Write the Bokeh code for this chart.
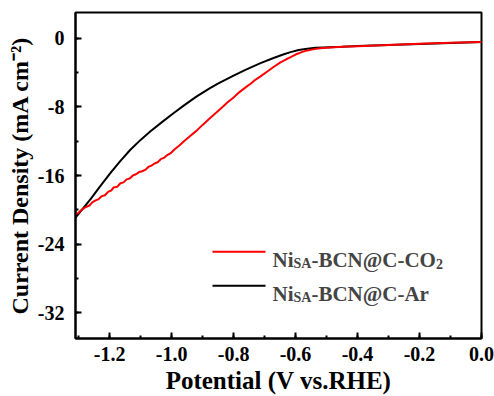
from bokeh.plotting import figure
from bokeh.models import SingleIntervalTicker, NumeralTickFormatter, Label
from bokeh.embed import file_html
from bokeh.resources import INLINE

# ---- data ----
ar_x = [-1.31, -1.285, -1.262, -1.23, -1.197, -1.165, -1.133, -1.10, -1.068, -1.03,
        -0.995, -0.961, -0.92, -0.88, -0.852, -0.80, -0.76, -0.713, -0.671, -0.64,
        -0.616, -0.59, -0.562, -0.535, -0.51, -0.45, -0.40, -0.30, -0.20, -0.10, 0.0]
ar_y = [-20.9, -19.8, -18.78, -17.25, -15.7, -14.3, -13.0, -11.85, -10.85, -9.75,
        -8.77, -7.85, -6.8, -5.9, -5.32, -4.35, -3.65, -2.9, -2.3, -1.9,
        -1.62, -1.38, -1.22, -1.12, -1.07, -0.98, -0.9, -0.78, -0.66, -0.55, -0.45]

co2_x = [-1.31, -1.300, -1.290, -1.278, -1.265, -1.255, -1.245, -1.235, -1.225, -1.215,
         -1.205, -1.195, -1.187, -1.175, -1.165, -1.155, -1.145, -1.135, -1.125, -1.115,
         -1.105, -1.095, -1.085, -1.075, -1.065, -1.055, -1.045, -1.035, -1.025, -1.015,
         -1.003, -0.990, -0.975, -0.96, -0.94, -0.92, -0.90, -0.88, -0.86, -0.84,
         -0.82, -0.80, -0.78, -0.76, -0.745, -0.73, -0.713, -0.69, -0.671, -0.65,
         -0.63, -0.616, -0.60, -0.58, -0.562, -0.54, -0.52, -0.50, -0.45, -0.40,
         -0.30, -0.20, -0.10, 0.0]
co2_y = [-20.5, -20.35, -20.0, -19.7, -19.5, -19.1, -18.9, -18.75, -18.4, -18.3,
         -17.9, -17.75, -17.4, -17.3, -16.9, -16.8, -16.45, -16.35, -16.0, -15.85,
         -15.6, -15.5, -15.35, -15.0, -14.85, -14.6, -14.45, -14.1, -13.95, -13.65,
         -13.4, -12.95, -12.5, -12.0, -11.4, -10.8, -10.1, -9.45, -8.8, -8.15,
         -7.5, -6.9, -6.25, -5.7, -5.3, -4.85, -4.45, -3.85, -3.35, -2.85,
         -2.45, -2.2, -1.9, -1.62, -1.42, -1.27, -1.18, -1.12, -1.0, -0.92,
         -0.78, -0.65, -0.54, -0.43]

series_labels = ["-BCN@C-CO", "-BCN@C-Ar"]
x_title = "Potential (V vs.RHE)"
y_title = "Current Density (mA cm\u207b\u00b2)"

X_MIN, X_MAX = -1.31, 0.0
Y_MIN, Y_MAX = -35.0, 3.0

W, H = 494, 396
FL, FR, FT, FB = 75, 481, 12, 339   # frame edges in pixels
def dx(px):
    return X_MIN + (px - FL) * (X_MAX - X_MIN) / (FR - FL)
def dy(py):
    return Y_MAX - (py - FT) * (Y_MAX - Y_MIN) / (FB - FT)

FONT = "Liberation Serif"

p = figure(width=W, height=H, x_range=(X_MIN, X_MAX), y_range=(Y_MIN, Y_MAX),
           output_backend="svg", toolbar_location=None,
           min_border_left=FL, min_border_right=W - FR,
           min_border_top=FT, min_border_bottom=H - FB)
p.grid.visible = False
p.outline_line_color = "black"
p.outline_line_width = 2
p.background_fill_color = "white"
p.border_fill_color = "white"

p.xaxis.ticker = SingleIntervalTicker(interval=0.2, num_minor_ticks=2)
p.yaxis.ticker = SingleIntervalTicker(interval=8, num_minor_ticks=2)
p.xaxis.formatter = NumeralTickFormatter(format="0.0")
p.yaxis.formatter = NumeralTickFormatter(format="0")
for ax in (p.xaxis[0], p.yaxis[0]):
    ax.axis_line_width = 2
    ax.axis_line_color = "black"
    ax.major_tick_in = 6
    ax.major_tick_out = 0
    ax.minor_tick_in = 3
    ax.minor_tick_out = 0
    ax.major_tick_line_width = 2
    ax.minor_tick_line_width = 2
    ax.major_label_text_font = FONT
    ax.major_label_text_font_style = "bold"
    ax.major_label_text_font_size = "20px"
    ax.major_label_text_color = "black"
    ax.axis_label_text_font = FONT
    ax.axis_label_text_font_style = "bold"
    ax.axis_label_text_color = "black"
p.xaxis.axis_label_text_font_size = "25px"
p.yaxis.axis_label_text_font_size = "24px"
p.xaxis.major_label_standoff = 8
p.yaxis.major_label_standoff = 11
p.xaxis.axis_label = x_title
p.yaxis.axis_label = y_title
p.xaxis.axis_label_standoff = 3
p.yaxis.axis_label_standoff = 2

p.line(ar_x, ar_y, line_color="black", line_width=2)
p.line(co2_x, co2_y, line_color="#ff0000", line_width=2)

# ---- legend drawn by hand (subscripts) ----
LEG_FS = 21
SUB_FS = 14
rows = [(252, 260, "#ff0000", series_labels[0], "2"), (286, 294, "black", series_labels[1], None)]
for ly, base, col, txt, tail in rows:
    p.line([dx(212), dx(265)], [dy(ly), dy(ly)], line_color=col, line_width=2)
    p.add_layout(Label(x=dx(272), y=dy(base), text="Ni", text_font=FONT, text_font_style="bold",
                       text_font_size=f"{LEG_FS}px", text_baseline="alphabetic"))
    p.add_layout(Label(x=dx(272 + 1.0 * LEG_FS), y=dy(base + 4), text="SA", text_font=FONT,
                       text_font_style="bold", text_font_size=f"{SUB_FS}px", text_baseline="alphabetic"))
    xs = 272 + 1.0 * LEG_FS + 1.278 * SUB_FS
    p.add_layout(Label(x=dx(xs), y=dy(base), text=txt, text_font=FONT, text_font_style="bold",
                       text_font_size=f"{LEG_FS}px", text_baseline="alphabetic"))
    if tail:
        xs2 = xs + 5.929 * LEG_FS
        p.add_layout(Label(x=dx(xs2), y=dy(base + 4), text=tail, text_font=FONT,
                           text_font_style="bold", text_font_size=f"{SUB_FS}px",
                           text_baseline="alphabetic"))

open("out.html", "w").write(file_html(p, INLINE))
